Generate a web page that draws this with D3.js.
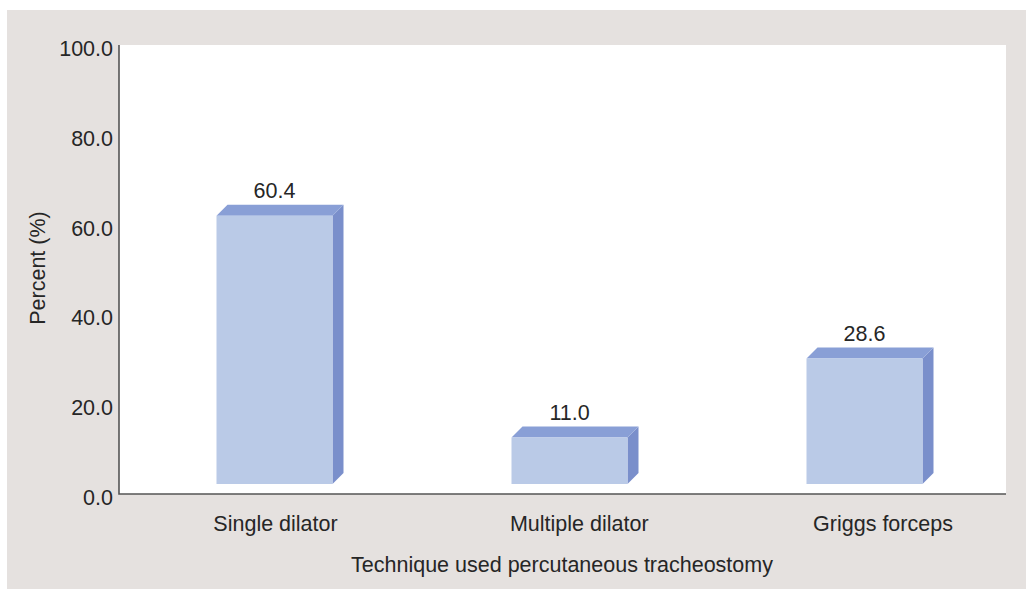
<!DOCTYPE html>
<html>
<head>
<meta charset="utf-8">
<script src="https://cdn.jsdelivr.net/npm/d3@7/dist/d3.min.js"></script>
<style>
  html, body { margin: 0; padding: 0; background: #ffffff; }
  svg { display: block; }
  text { font-family: "Liberation Sans", Arial, sans-serif; fill: #262626; }
</style>
</head>
<body>
<svg id="chart" width="1026" height="590"></svg>
<script>
// Techniques and share of percutaneous tracheostomies (%)
const categories = ["Single dilator", "Multiple dilator", "Griggs forceps"];
const percents = [60.4, 11.0, 28.6];
const yTicks = [0, 20, 40, 60, 80, 100];
const yTitle = "Percent (%)";
const xTitle = "Technique used percutaneous tracheostomy";

const svg = d3.select("#chart");
const W = 1026, H = 590;
const fontSize = 21.5;

// panel and plot geometry
const panel = { x: 7, y: 10, w: W - 7, h: H - 11 };
const plot = { left: 119, right: 1006, top: 45, bottom: 494 };

const y = d3.scaleLinear().domain([0, 100]).range([plot.bottom, plot.top]);
const x = d3.scalePoint().domain(categories).range([127, 1012]).padding(0.5);
const xLabel = d3.scalePoint().domain(categories).range([275.5, 883]);

const barW = 116;      // front face width
const depth = 11;      // 3D extrusion offset
const lift = 10;       // bars float slightly above the axis
const topLift = 7;

const colFront = "#bacae7";
const colTop = "#899fd6";
const colSide = "#7a8fcb";

// background panel
svg.append("rect")
  .attr("x", panel.x).attr("y", panel.y)
  .attr("width", panel.w).attr("height", panel.h)
  .attr("fill", "#e5e1df");

// plot area
svg.append("rect")
  .attr("x", plot.left).attr("y", plot.top)
  .attr("width", plot.right - plot.left).attr("height", plot.bottom - plot.top)
  .attr("fill", "#ffffff");

// bars
const data = categories.map((c, i) => ({ c, v: percents[i] }));
const bars = svg.append("g").selectAll("g").data(data).join("g");

bars.each(function(d) {
  const g = d3.select(this);
  const cx = x(d.c);
  const x0 = cx - barW / 2, x1 = cx + barW / 2;
  const yb = y(0) - lift;
  const yt = y(d.v) - topLift;
  // side face
  g.append("path")
    .attr("d", `M${x1},${yt} L${x1 + depth},${yt - depth} L${x1 + depth},${yb - depth} L${x1},${yb} Z`)
    .attr("fill", colSide);
  // top face
  g.append("path")
    .attr("d", `M${x0},${yt} L${x0 + depth},${yt - depth} L${x1 + depth},${yt - depth} L${x1},${yt} Z`)
    .attr("fill", colTop);
  // front face
  g.append("rect")
    .attr("x", x0).attr("y", yt)
    .attr("width", barW).attr("height", yb - yt)
    .attr("fill", colFront);
  // value label
  g.append("text")
    .attr("x", cx).attr("y", yt - depth - 7)
    .attr("text-anchor", "middle")
    .attr("font-size", fontSize)
    .text(d.v.toFixed(1));
});

// axes lines
svg.append("path")
  .attr("d", `M${plot.left},${plot.top} V${plot.bottom} H${plot.right}`)
  .attr("fill", "none")
  .attr("stroke", "#555555")
  .attr("stroke-width", 1.6);

// y tick labels
svg.append("g").selectAll("text").data(yTicks).join("text")
  .attr("x", 113)
  .attr("y", d => y(d) + 11)
  .attr("text-anchor", "end")
  .attr("font-size", fontSize)
  .text(d => d.toFixed(1));

// category labels
svg.append("g").selectAll("text").data(categories).join("text")
  .attr("x", d => xLabel(d))
  .attr("y", 531)
  .attr("text-anchor", "middle")
  .attr("font-size", fontSize)
  .text(d => d);

// axis titles
svg.append("text")
  .attr("transform", "translate(45,268) rotate(-90)")
  .attr("text-anchor", "middle")
  .attr("font-size", fontSize)
  .text(yTitle);

svg.append("text")
  .attr("x", 562).attr("y", 572)
  .attr("text-anchor", "middle")
  .attr("font-size", fontSize)
  .text(xTitle);
</script>
</body>
</html>
